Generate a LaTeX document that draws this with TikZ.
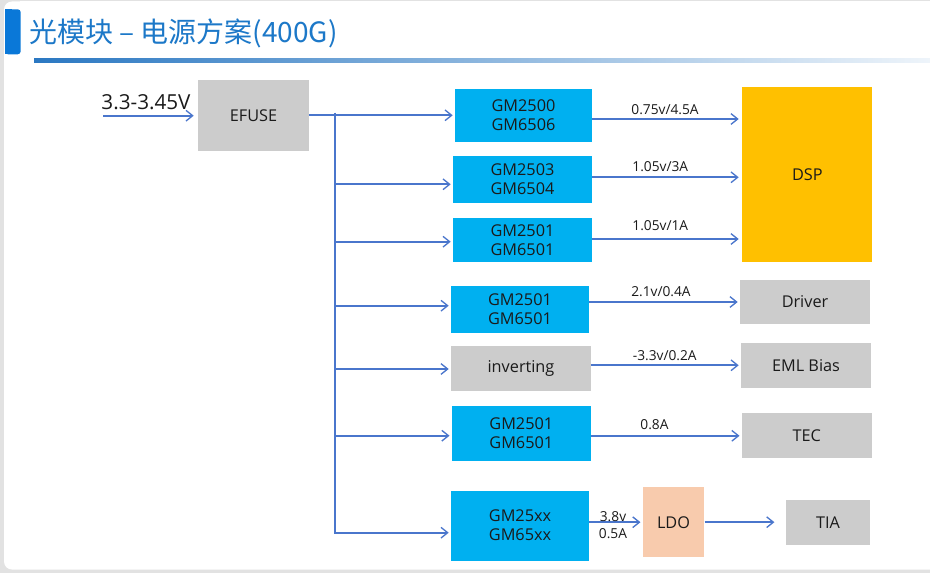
\documentclass[tikz,border=0pt]{standalone}
\usepackage{fontspec}
\setmainfont{Open Sans}
\newfontfamily\cjk{Noto Sans CJK SC}
\usetikzlibrary{arrows.meta}
\definecolor{boxblue}{HTML}{00B0F0}
\definecolor{boxgray}{HTML}{CCCCCC}
\definecolor{dspor}{HTML}{FFC000}
\definecolor{ldopeach}{HTML}{F8CBAD}
\definecolor{arrblue}{HTML}{4A76CC}
\definecolor{titleblue}{HTML}{1C78C8}
\definecolor{tabblue}{HTML}{0A78D8}
\definecolor{lineblue}{HTML}{2B78C2}
\definecolor{framegray}{HTML}{E2E2E2}
\definecolor{txt}{HTML}{1A1A1A}
\begin{document}
\begin{tikzpicture}[x=0.75pt,y=-0.75pt,
  sz/.style 2 args={minimum width=#1*0.75pt, minimum height=#2*0.75pt},
  blk/.style={inner sep=0pt, draw=none, text=txt, font=\fontsize{12.2}{14.3}\selectfont, align=center},
  bluebox/.style={blk, fill=boxblue},
  graybox/.style={blk, fill=boxgray},
  arr/.style={draw=arrblue, line width=1.25pt, -{Straight Barb[length=5pt,width=8pt,line width=1pt]}, shorten >=1.5pt},
  lbl/.style={anchor=base, inner sep=0pt, text=txt, font=\fontsize{10.3}{12}\selectfont}]
\useasboundingbox (0,0) rectangle (930,573);
% frame
\fill[framegray] (0,0) rectangle (930,573);
\fill[white, rounded corners=8*0.75pt] (4,1.5) rectangle (960,569.5);
\fill[white] (20,1.5) rectangle (930,300);
% title
\fill[tabblue, rounded corners=3*0.75pt] (5,9.3) rectangle (20.7,54.3);
\fill[tabblue] (5,9.3) rectangle (12,54.3);
\node[anchor=base west, inner sep=0pt, text=titleblue, font=\cjk\fontsize{21}{25}\selectfont] (title) at (29,42.5) {光模块 – 电源方案(400G)};
\shade[left color=lineblue, right color=white!92!lineblue] (34,58.3) rectangle (930,62.3);
% nodes
\node[graybox, sz={111}{71}] (efuse) at (253.5,115.3) {EFUSE};
\node[bluebox, sz={137}{53}] (b1) at (523.5,115.5) {GM2500\\GM6506};
\node[bluebox, sz={139}{47}] (b2) at (522.5,179.5) {GM2503\\GM6504};
\node[bluebox, sz={139}{44}] (b3) at (522.5,240) {GM2501\\GM6501};
\node[bluebox, sz={138}{47}] (b4) at (520,309.2) {GM2501\\GM6501};
\node[graybox, sz={140}{45}] (b5) at (521,368.4) {inverting};
\node[bluebox, sz={139}{55}] (b6) at (521.3,433.2) {GM2501\\GM6501};
\node[bluebox, sz={138}{70}] (b7) at (520,525.5) {GM25xx\\GM65xx};
\node[blk, fill=dspor, sz={130}{175.6}] (dsp) at (807.3,174.5) {DSP};
\node[graybox, sz={130}{44}] (driver) at (805,302) {Driver};
\node[graybox, sz={130}{44.7}] (eml) at (806,365.3) {EML Bias};
\node[graybox, sz={130}{45}] (tec) at (806.8,435.8) {TEC};
\node[blk, fill=ldopeach, sz={61.6}{70.3}] (ldo) at (673.5,522.2) {LDO};
\node[graybox, sz={84}{45}] (tia) at (828,522.5) {TIA};
% input
\coordinate (vin) at (103,115.7);
\draw[arr, shorten >=3pt] (vin) -- (vin -| efuse.west);
\node[anchor=base, inner sep=0pt, text=txt, font=\fontsize{15.5}{18}\selectfont] (vinlbl) at (146,109.3) {3.3-3.45V};
% bus
\draw[arr] (efuse.east) -- (efuse.east -| b1.west);
\coordinate (bustop) at (335,112.7);
\coordinate (busbot) at (335,532.7);
\draw[arr] (bustop) -- (busbot) -- (busbot -| b7.west);
\coordinate (i2) at (335,184.3);
\coordinate (i3) at (335,241.7);
\coordinate (i4) at (335,305.7);
\coordinate (i5) at (335,369);
\coordinate (i6) at (335,435.7);
\draw[arr] (i2) -- (i2 -| b2.west);
\draw[arr] (i3) -- (i3 -| b3.west);
\draw[arr] (i4) -- (i4 -| b4.west);
\draw[arr] (i5) -- (i5 -| b5.west);
\draw[arr] (i6) -- (i6 -| b6.west);
% outputs
\coordinate (o1) at (592,119);
\coordinate (o2) at (592,177.3);
\coordinate (o3) at (592,239);
\draw[arr, shorten >=2.5pt] (o1) -- (o1 -| dsp.west);
\draw[arr, shorten >=2.5pt] (o2) -- (o2 -| dsp.west);
\draw[arr, shorten >=2.5pt] (o3) -- (o3 -| dsp.west);
\draw[arr] (b4.east |- driver.west) -- (driver.west);
\draw[arr] (b5.east |- eml.west) -- (eml.west);
\draw[arr] (b6.east |- tec.west) -- (tec.west);
\draw[arr] (b7.east |- ldo.west) -- (ldo.west);
\draw[arr, shorten >=8.5pt] (ldo.east) -- (ldo.east -| tia.west);
% labels
\node[lbl] (l1) at (665,114.3) {0.75v/4.5A};
\node[lbl] (l2) at (660.3,171.7) {1.05v/3A};
\node[lbl] (l3) at (660.3,230.7) {1.05v/1A};
\node[lbl] (l4) at (661,296.7) {2.1v/0.4A};
\node[lbl] (l5) at (664.7,360) {-3.3v/0.2A};
\node[lbl] (l6) at (654.5,429) {0.8A};
\node[lbl] (l7) at (613,521.7) {3.8v};
\node[lbl] (l8) at (613,538) {0.5A};
\end{tikzpicture}
\end{document}
